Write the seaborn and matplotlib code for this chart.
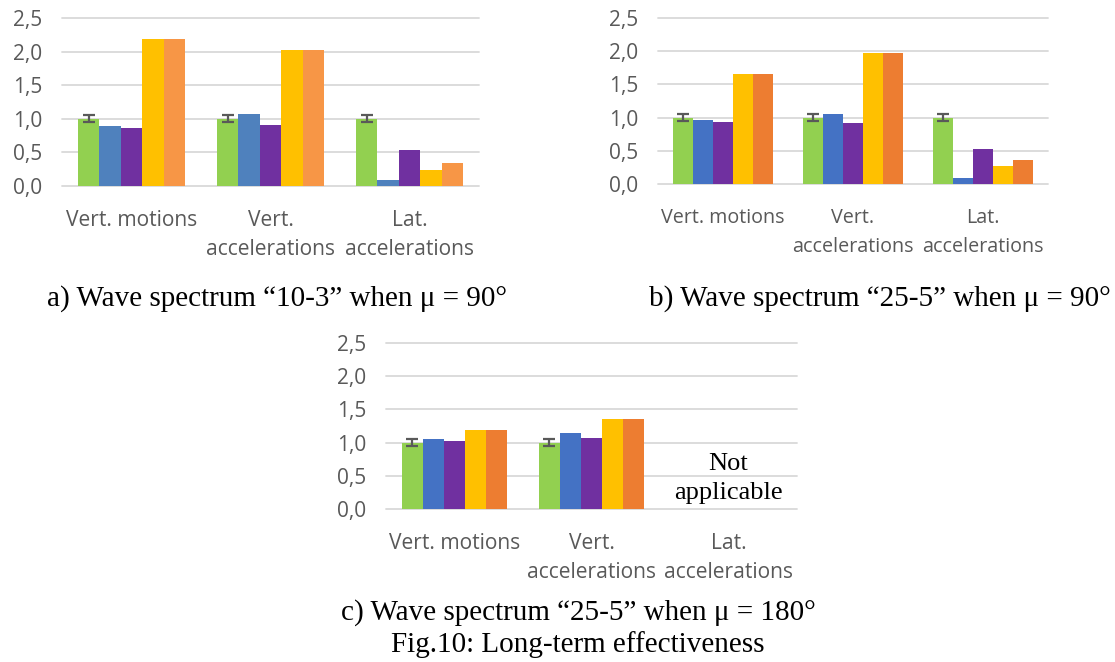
import numpy as np
import pandas as pd
import matplotlib
matplotlib.use("Agg")
import matplotlib.pyplot as plt
import seaborn as sns

# ---------------- data ----------------
categories = ["Vert. motions", "Vert.\naccelerations", "Lat.\naccelerations"]
series = ["Series 1", "Series 2", "Series 3", "Series 4", "Series 5"]
yticks = [0.0, 0.5, 1.0, 1.5, 2.0, 2.5]
ytick_labels = ["0,0", "0,5", "1,0", "1,5", "2,0", "2,5"]

# panel a: wave spectrum "10-3", mu = 90
a_s1 = [1.00, 1.00, 1.00]
a_s2 = [0.90, 1.07, 0.085]
a_s3 = [0.87, 0.91, 0.53]
a_s4 = [2.19, 2.02, 0.24]
a_s5 = [2.19, 2.02, 0.34]
a_err = [0.055, 0.055, 0.055]

# panel b: wave spectrum "25-5", mu = 90
b_s1 = [1.00, 1.00, 1.00]
b_s2 = [0.96, 1.05, 0.09]
b_s3 = [0.93, 0.92, 0.53]
b_s4 = [1.65, 1.98, 0.27]
b_s5 = [1.66, 1.98, 0.36]
b_err = [0.055, 0.055, 0.055]

# panel c: wave spectrum "25-5", mu = 180 (lateral not applicable)
c_s1 = [1.00, 1.00, np.nan]
c_s2 = [1.06, 1.14, np.nan]
c_s3 = [1.02, 1.07, np.nan]
c_s4 = [1.19, 1.35, np.nan]
c_s5 = [1.19, 1.35, np.nan]
c_err = [0.055, 0.055]

captions = ["a) Wave spectrum \u201c10-3\u201d when \u03bc = 90\u00b0",
            "b) Wave spectrum \u201c25-5\u201d when \u03bc = 90\u00b0",
            "c) Wave spectrum \u201c25-5\u201d when \u03bc = 180\u00b0"]
fig_title = "Fig.10: Long-term effectiveness"
na_text = ["Not", "applicable"]

colors_a = ["#92D050", "#4F81BD", "#7030A0", "#FFC000", "#F79646"]
colors_bc = ["#92D050", "#4472C4", "#7030A0", "#FFC000", "#ED7D31"]


def long_df(cols):
    rows = []
    for s, vals in zip(series, cols):
        for c, v in zip(categories, vals):
            rows.append({"category": c, "series": s, "value": v})
    return pd.DataFrame(rows)


sns.set_theme(style="white")
plt.rcParams["font.family"] = ["Open Sans", "DejaVu Sans"]

fig = plt.figure(figsize=(11.15, 6.62), dpi=100)
W, H = 1115, 662


def add_ax(x0, x1, ytop, ybot):
    return fig.add_axes([x0 / W, 1 - ybot / H, (x1 - x0) / W, (ybot - ytop) / H])


ax_a = add_ax(62, 479, 18, 186)
ax_b = add_ax(658, 1048, 18, 184)
ax_c = add_ax(386, 797, 343, 509)

serif = ["Liberation Serif", "DejaVu Serif"]
tick_col = "#595959"

for ax, cols, pal, err, xfs in [
    (ax_a, [a_s1, a_s2, a_s3, a_s4, a_s5], colors_a, a_err, 15.1),
    (ax_b, [b_s1, b_s2, b_s3, b_s4, b_s5], colors_bc, b_err, 14.2),
    (ax_c, [c_s1, c_s2, c_s3, c_s4, c_s5], colors_bc, c_err, 15.1),
]:
    df = long_df(cols)
    sns.barplot(data=df, x="category", y="value", hue="series",
                order=categories, hue_order=series, palette=pal,
                width=0.77, errorbar=None, saturation=1, legend=False,
                linewidth=0, ax=ax)
    ax.set_ylim(0, 2.5)
    ax.set_xlim(-0.5, 2.5)
    ax.set_yticks(yticks)
    ax.set_yticklabels(ytick_labels)
    ax.set_xlabel("")
    ax.set_ylabel("")
    for sp in ax.spines.values():
        sp.set_visible(False)
    ax.grid(axis="y", color="#D9D9D9", linewidth=1.3, zorder=0)
    ax.set_axisbelow(True)
    ax.tick_params(axis="x", length=0, labelsize=xfs, colors=tick_col, pad=17.5)
    ax.tick_params(axis="y", length=0, labelsize=15, colors=tick_col, pad=14)
    for lab in ax.get_xticklabels():
        lab.set_linespacing(1.5 * 15.1 / xfs)
    # error bars on first series bars
    cont = ax.containers[0]
    xs = [p.get_x() + p.get_width() / 2 for p in cont.patches if np.isfinite(p.get_height())]
    hs = [p.get_height() for p in cont.patches if np.isfinite(p.get_height())]
    ax.errorbar(xs, hs, yerr=err[:len(xs)], fmt="none", ecolor="#595959",
                elinewidth=1.6, capsize=4.5, capthick=1.6, zorder=5)
    for ln in ax.get_ygridlines():
        ln.set_clip_on(False)

# Not applicable text in panel c
ax_c.text(2, 0.585, na_text[0], ha="center", va="baseline", fontsize=19,
          family=serif, color="black")
ax_c.text(2, 0.15, na_text[1], ha="center", va="baseline", fontsize=19,
          family=serif, color="black")

fig.text(277 / W, 1 - 306 / H, captions[0], ha="center", va="baseline",
         fontsize=21, family=serif, color="black")
fig.text(880 / W, 1 - 306 / H, captions[1], ha="center", va="baseline",
         fontsize=21, family=serif, color="black")
fig.text(578 / W, 1 - 620 / H, captions[2], ha="center", va="baseline",
         fontsize=21, family=serif, color="black")
fig.text(578 / W, 1 - 652 / H, fig_title, ha="center", va="baseline",
         fontsize=21, family=serif, color="black")

fig.savefig("out.png", dpi=100, facecolor="white")
